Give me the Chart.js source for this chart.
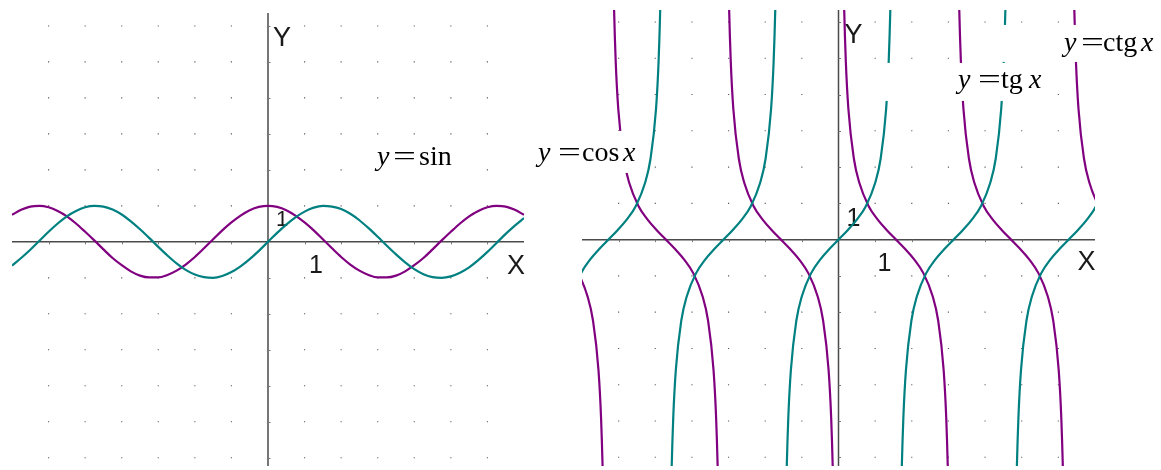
<!DOCTYPE html>
<html>
<head>
<meta charset="utf-8">
<script src="https://cdn.jsdelivr.net/npm/chart.js@4.4.1/dist/chart.umd.min.js"></script>
<style>
  html, body { margin: 0; padding: 0; background: #fff; overflow: hidden; }
  #wrap { position: relative; width: 1161px; height: 470px; }
  #left { position: absolute; left: 0; top: 0; }
  #right { position: absolute; left: 525px; top: 0; }
</style>
</head>
<body>
<div id="wrap">
  <canvas id="left" width="540" height="470"></canvas>
  <canvas id="right" width="636" height="470"></canvas>
</div>
<script>
const TEAL = '#008080';
const PURPLE = '#800080';

// sin / cos sampled every 0.25 on [-7, 7]
const waveX = [-7, -6.75, -6.5, -6.25, -6, -5.75, -5.5, -5.25, -5, -4.75, -4.5, -4.25, -4, -3.75, -3.5, -3.25,
  -3, -2.75, -2.5, -2.25, -2, -1.75, -1.5, -1.25, -1, -0.75, -0.5, -0.25, 0, 0.25, 0.5, 0.75, 1, 1.25, 1.5,
  1.75, 2, 2.25, 2.5, 2.75, 3, 3.25, 3.5, 3.75, 4, 4.25, 4.5, 4.75, 5, 5.25, 5.5, 5.75, 6, 6.25, 6.5, 6.75, 7];
const sinY = [-0.66, -0.45, -0.22, 0.03, 0.28, 0.51, 0.71, 0.86, 0.96, 1.00, 0.98, 0.90, 0.76, 0.57, 0.35, 0.11,
  -0.14, -0.38, -0.60, -0.78, -0.91, -0.98, -1.00, -0.95, -0.84, -0.68, -0.48, -0.25, 0, 0.25, 0.48, 0.68, 0.84,
  0.95, 1.00, 0.98, 0.91, 0.78, 0.60, 0.38, 0.14, -0.11, -0.35, -0.57, -0.76, -0.90, -0.98, -1.00, -0.96, -0.86,
  -0.71, -0.51, -0.28, -0.03, 0.22, 0.45, 0.66];
const cosY = [0.75, 0.89, 0.98, 1.00, 0.96, 0.86, 0.71, 0.51, 0.28, 0.04, -0.21, -0.45, -0.65, -0.82, -0.94, -0.99,
  -0.99, -0.92, -0.80, -0.63, -0.42, -0.18, 0.07, 0.32, 0.54, 0.73, 0.88, 0.97, 1.00, 0.97, 0.88, 0.73, 0.54,
  0.32, 0.07, -0.18, -0.42, -0.63, -0.80, -0.92, -0.99, -0.99, -0.94, -0.82, -0.65, -0.45, -0.21, 0.04, 0.28,
  0.51, 0.71, 0.86, 0.96, 1.00, 0.98, 0.89, 0.75];

// one branch of tg / ctg, sampled at offsets from the branch centre
const branchOffsets = [-1.45, -1.42, -1.37, -1.3, -1.15, -1, -0.75, -0.5, -0.25, 0, 0.25, 0.5, 0.75, 1, 1.15, 1.3, 1.37, 1.42, 1.45];
const tgBranch = [-8.24, -6.58, -4.91, -3.60, -2.23, -1.56, -0.93, -0.55, -0.26, 0, 0.26, 0.55, 0.93, 1.56, 2.23, 3.60, 4.91, 6.58, 8.24];
const ctgBranch = [8.24, 6.58, 4.91, 3.60, 2.23, 1.56, 0.93, 0.55, 0.26, 0, -0.26, -0.55, -0.93, -1.56, -2.23, -3.60, -4.91, -6.58, -8.24];
const tgCenters = [-6.28, -3.14, 0, 3.14, 6.28];
const ctgCenters = [-7.85, -4.71, -1.57, 1.57, 4.71, 7.85];

// dotted grid at whole units
const gridTicks = [-6, -5, -4, -3, -2, -1, 1, 2, 3, 4, 5, 6];

const dots = [];
gridTicks.forEach(gx => gridTicks.forEach(gy => dots.push({ x: gx, y: gy })));

const SANS = '"Liberation Sans", Arial, sans-serif';
const SERIF = '"Liberation Serif", "Times New Roman", serif';

// texts placed relative to the axes origin
const decorFor = {
  left: {
    marks: [
      { t: 'Y', dx: 5, dy: -196, size: 27 },
      { t: 'X', dx: 239, dy: 32, size: 27 },
      { t: '1', dx: 41, dy: 31, size: 25 },
      { t: '1', dx: 8, dy: -16, size: 22 }
    ],
    formulas: [
      { dx: 109, dy: -77, box: [-5, -22, 86, 33],
        parts: [{ t: 'y', it: true, at: 0 }, { t: '=', at: 16, sx: 1.45 }, { t: 'sin', at: 42 }] }
    ]
  },
  right: {
    marks: [
      { t: 'Y', dx: 6, dy: -197, size: 27 },
      { t: 'X', dx: 239, dy: 30, size: 27 },
      { t: '1', dx: 39, dy: 31, size: 25 },
      { t: '1', dx: 8, dy: -14, size: 25 }
    ],
    formulas: [
      { dx: -300.5, dy: -78.7, box: [-5, -30, 107, 42],
        parts: [{ t: 'y', it: true, at: 0 }, { t: '=', at: 20, sx: 1.45 }, { t: 'cos', at: 44 }, { t: 'x', it: true, at: 85 }] },
      { dx: 119.5, dy: -151.7, box: [-90, -25, 182, 38],
        parts: [{ t: 'y', it: true, at: 0 }, { t: '=', at: 20, sx: 1.45 }, { t: 'tg', at: 43 }, { t: 'x', it: true, at: 71 }] },
      { dx: 225.5, dy: -188.7, box: [-88, -26, 180, 37],
        parts: [{ t: 'y', it: true, at: 0 }, { t: '=', at: 17, sx: 1.45 }, { t: 'ctg', at: 39 }, { t: 'x', it: true, at: 77 }] }
    ]
  }
};

const decor = {
  id: 'decor',
  beforeDatasetsDraw(chart) {
    const { ctx, chartArea: a, scales: { x, y } } = chart;
    const cfg = decorFor[chart.canvas.id];
    const x0 = x.getPixelForValue(0), y0 = y.getPixelForValue(0);
    ctx.save();
    ctx.strokeStyle = '#4a4a4a';
    ctx.lineWidth = 1.5;
    ctx.beginPath();
    ctx.moveTo(a.left, y0); ctx.lineTo(a.right, y0);
    ctx.moveTo(x0, a.top); ctx.lineTo(x0, a.bottom);
    ctx.stroke();
    // little unit ticks on both axes
    ctx.strokeStyle = '#777';
    ctx.lineWidth = 1;
    ctx.beginPath();
    gridTicks.forEach(t => {
      const px = Math.round(x.getPixelForValue(t)) + 0.5;
      ctx.moveTo(px, y0); ctx.lineTo(px, y0 + 2.5);
      const py = Math.round(y.getPixelForValue(t)) + 0.5;
      ctx.moveTo(x0, py); ctx.lineTo(x0 + 2.5, py);
    });
    ctx.stroke();
    ctx.fillStyle = '#1a1a1a';
    ctx.textBaseline = 'alphabetic';
    cfg.marks.forEach(m => {
      ctx.font = m.size + 'px ' + SANS;
      ctx.fillText(m.t, x0 + m.dx, y0 + m.dy);
    });
    ctx.restore();
  },
  afterDatasetsDraw(chart) {
    const { ctx, scales: { x, y } } = chart;
    const cfg = decorFor[chart.canvas.id];
    const x0 = x.getPixelForValue(0), y0 = y.getPixelForValue(0);
    ctx.save();
    ctx.textBaseline = 'alphabetic';
    cfg.formulas.forEach(f => {
      const bx = x0 + f.dx, by = y0 + f.dy;
      ctx.fillStyle = '#fff';
      ctx.fillRect(bx + f.box[0], by + f.box[1], f.box[2], f.box[3]);
      ctx.fillStyle = '#000';
      f.parts.forEach(p => {
        ctx.font = (p.it ? 'italic ' : '') + '28px ' + SERIF;
        ctx.save();
        ctx.translate(bx + p.at, by);
        if (p.sx) ctx.scale(p.sx, 1);
        ctx.fillText(p.t, 0, 0);
        ctx.restore();
      });
    });
    ctx.restore();
  }
};

function curve(xs, ys, color) {
  return {
    data: xs.map((v, i) => ({ x: v, y: ys[i] })),
    borderColor: color,
    borderWidth: 2.2,
    pointRadius: 0,
    cubicInterpolationMode: 'monotone',
    order: 0
  };
}

function branches(centers, values, color) {
  return centers.map(c => curve(branchOffsets.map(o => c + o), values, color));
}

function dotSet() {
  return {
    data: dots.slice(),
    showLine: false,
    pointRadius: 0.8,
    pointStyle: 'rect',
    pointBackgroundColor: '#555',
    pointBorderWidth: 0,
    order: 5
  };
}

function makeChart(id, yMin, yMax, pad, datasets) {
  return new Chart(document.getElementById(id), {
    type: 'line',
    data: { datasets },
    options: {
      responsive: false,
      animation: false,
      devicePixelRatio: 1,
      layout: { padding: pad },
      plugins: { legend: { display: false }, tooltip: { enabled: false } },
      scales: {
        x: { type: 'linear', min: -7, max: 7, display: false },
        y: { type: 'linear', min: yMin, max: yMax, display: false }
      }
    },
    plugins: [decor]
  });
}

makeChart('left', -6.23, 6.36, { left: 12, right: 16, top: 13, bottom: 0 }, [
  dotSet(),
  curve(waveX, sinY, TEAL),
  curve(waveX, cosY, PURPLE)
]);

makeChart('right', -6.24, 6.33, { left: 57, right: 66, top: 10, bottom: 0 }, [
  dotSet(),
  ...branches(tgCenters, tgBranch, TEAL),
  ...branches(ctgCenters, ctgBranch, PURPLE)
]);
</script>
</body>
</html>
